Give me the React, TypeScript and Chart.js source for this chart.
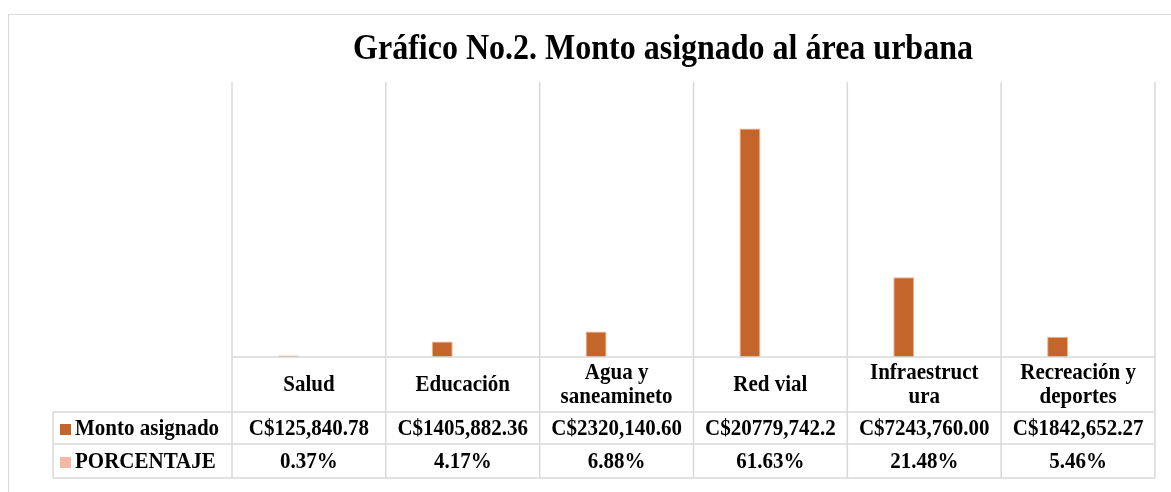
import React, { useEffect, useRef } from "react";
import Chart from "chart.js/auto";

const chartTitle = "Gráfico No.2. Monto asignado al área urbana";
const categories = ["Salud", "Educación", "Agua y saneamineto", "Red vial", "Infraestructura", "Recreación y deportes"];
const categoryLines = [["Salud"], ["Educación"], ["Agua y", "saneamineto"], ["Red vial"], ["Infraestruct", "ura"], ["Recreación y", "deportes"]];
const seriesNames = ["Monto asignado", "PORCENTAJE"];
const montoValues = [125840.78, 1405882.36, 2320140.6, 20779742.2, 7243760.0, 1842652.27];
const montoLabels = ["C$125,840.78", "C$1405,882.36", "C$2320,140.60", "C$20779,742.2", "C$7243,760.00", "C$1842,652.27"];
const porcentajeValues = [0.37, 4.17, 6.88, 61.63, 21.48, 5.46];
const porcentajeLabels = ["0.37%", "4.17%", "6.88%", "61.63%", "21.48%", "5.46%"];
const yMax = 25000000;

const W = 1171;
const H = 492;
const FONT = "'Liberation Serif', 'Times New Roman', serif";
const MONTO_COLOR = "#C4652B";
const PCT_COLOR = "#F4B8A4";
const BAR_BORDER = "#F4B183";
const GRID = "#d9d9d9";
const SY = 1.1;

function text(ctx: any, s: string, x: number, y: number) {
  ctx.save();
  ctx.translate(x, y);
  ctx.scale(1, SY);
  ctx.fillText(s, 0, 0);
  ctx.restore();
}

const tablePlugin = {
  id: "dataTable",
  afterDraw(chart: any) {
    const ctx = chart.ctx;
    const xs = chart.scales.x;
    const area = chart.chartArea;
    const n = categories.length;
    const catW = (area.right - area.left) / n;
    const edges: number[] = [];
    for (let i = 0; i <= n; i++) edges.push(area.left + i * catW);
    const rowCat = area.bottom;
    const rowMonto = 412;
    const rowPct = 444;
    const rowEnd = 478;
    const tableLeft = 53;

    ctx.save();
    // title
    ctx.fillStyle = "#000";
    ctx.font = `bold 32px ${FONT}`;
    ctx.textAlign = "center";
    ctx.textBaseline = "middle";
    text(ctx, chartTitle, 663, 50);

    // grid / table lines
    ctx.strokeStyle = GRID;
    ctx.lineWidth = 1.5;
    ctx.beginPath();
    for (const e of edges) {
      ctx.moveTo(e, area.top);
      ctx.lineTo(e, rowEnd);
    }
    ctx.moveTo(tableLeft, rowMonto);
    ctx.lineTo(tableLeft, rowEnd);
    ctx.moveTo(area.left, rowCat);
    ctx.lineTo(area.right, rowCat);
    for (const y of [rowMonto, rowPct, rowEnd]) {
      ctx.moveTo(tableLeft, y);
      ctx.lineTo(area.right, y);
    }
    ctx.stroke();

    // text
    ctx.fillStyle = "#000";
    ctx.font = `bold 21px ${FONT}`;
    ctx.textAlign = "center";
    ctx.textBaseline = "middle";
    for (let i = 0; i < n; i++) {
      const cx = xs.getPixelForValue(i);
      const lines = categoryLines[i];
      const mid = (rowCat + rowMonto) / 2 + 1;
      const lh = 24;
      lines.forEach((ln, k) => {
        text(ctx, ln, cx, mid + (k - (lines.length - 1) / 2) * lh);
      });
      text(ctx, montoLabels[i], cx, (rowMonto + rowPct) / 2 + 1);
      text(ctx, porcentajeLabels[i], cx, (rowPct + rowEnd) / 2 + 1);
    }

    // legend keys
    ctx.textAlign = "left";
    const rows = [
      { y: (rowMonto + rowPct) / 2 + 1, color: MONTO_COLOR, name: seriesNames[0] },
      { y: (rowPct + rowEnd) / 2 + 1, color: PCT_COLOR, name: seriesNames[1] },
    ];
    for (const r of rows) {
      ctx.fillStyle = r.color;
      ctx.fillRect(60, r.y - 5, 11, 11);
      ctx.fillStyle = "#000";
      text(ctx, r.name, 75, r.y);
    }
    ctx.restore();
  },
};

export default function App() {
  const ref = useRef<HTMLCanvasElement>(null);
  useEffect(() => {
    if (!ref.current) return;
    const chart = new Chart(ref.current, {
      type: "bar",
      data: {
        labels: categories,
        datasets: [
          {
            label: seriesNames[0],
            data: montoValues,
            backgroundColor: MONTO_COLOR,
            borderColor: BAR_BORDER,
            borderWidth: 1,
            categoryPercentage: 0.533,
            barPercentage: 0.51,
          },
          {
            label: seriesNames[1],
            data: porcentajeValues,
            backgroundColor: PCT_COLOR,
            borderColor: PCT_COLOR,
            borderWidth: 0,
            categoryPercentage: 0.533,
            barPercentage: 0.51,
          },
        ],
      },
      options: {
        responsive: false,
        animation: false,
        devicePixelRatio: 1,
        layout: { padding: { left: 232, right: W - 1155, top: 82, bottom: H - 357 } },
        plugins: { legend: { display: false }, title: { display: false }, tooltip: { enabled: false } },
        scales: {
          x: { display: false, offset: true },
          y: { display: false, min: 0, max: yMax },
        },
      },
      plugins: [tablePlugin],
    });
    return () => chart.destroy();
  }, []);
  return (
    <div style={{ position: "absolute", left: 0, top: 0, width: W, height: H, overflow: "hidden", background: "#fff" }}>
      <div
        style={{
          position: "absolute",
          left: 8,
          top: 14,
          width: 1250,
          height: 600,
          border: `1.5px solid ${GRID}`,
          boxSizing: "border-box",
        }}
      />
      <canvas ref={ref} width={W} height={H} style={{ position: "absolute", left: 0, top: 0, width: W, height: H }} />
    </div>
  );
}
